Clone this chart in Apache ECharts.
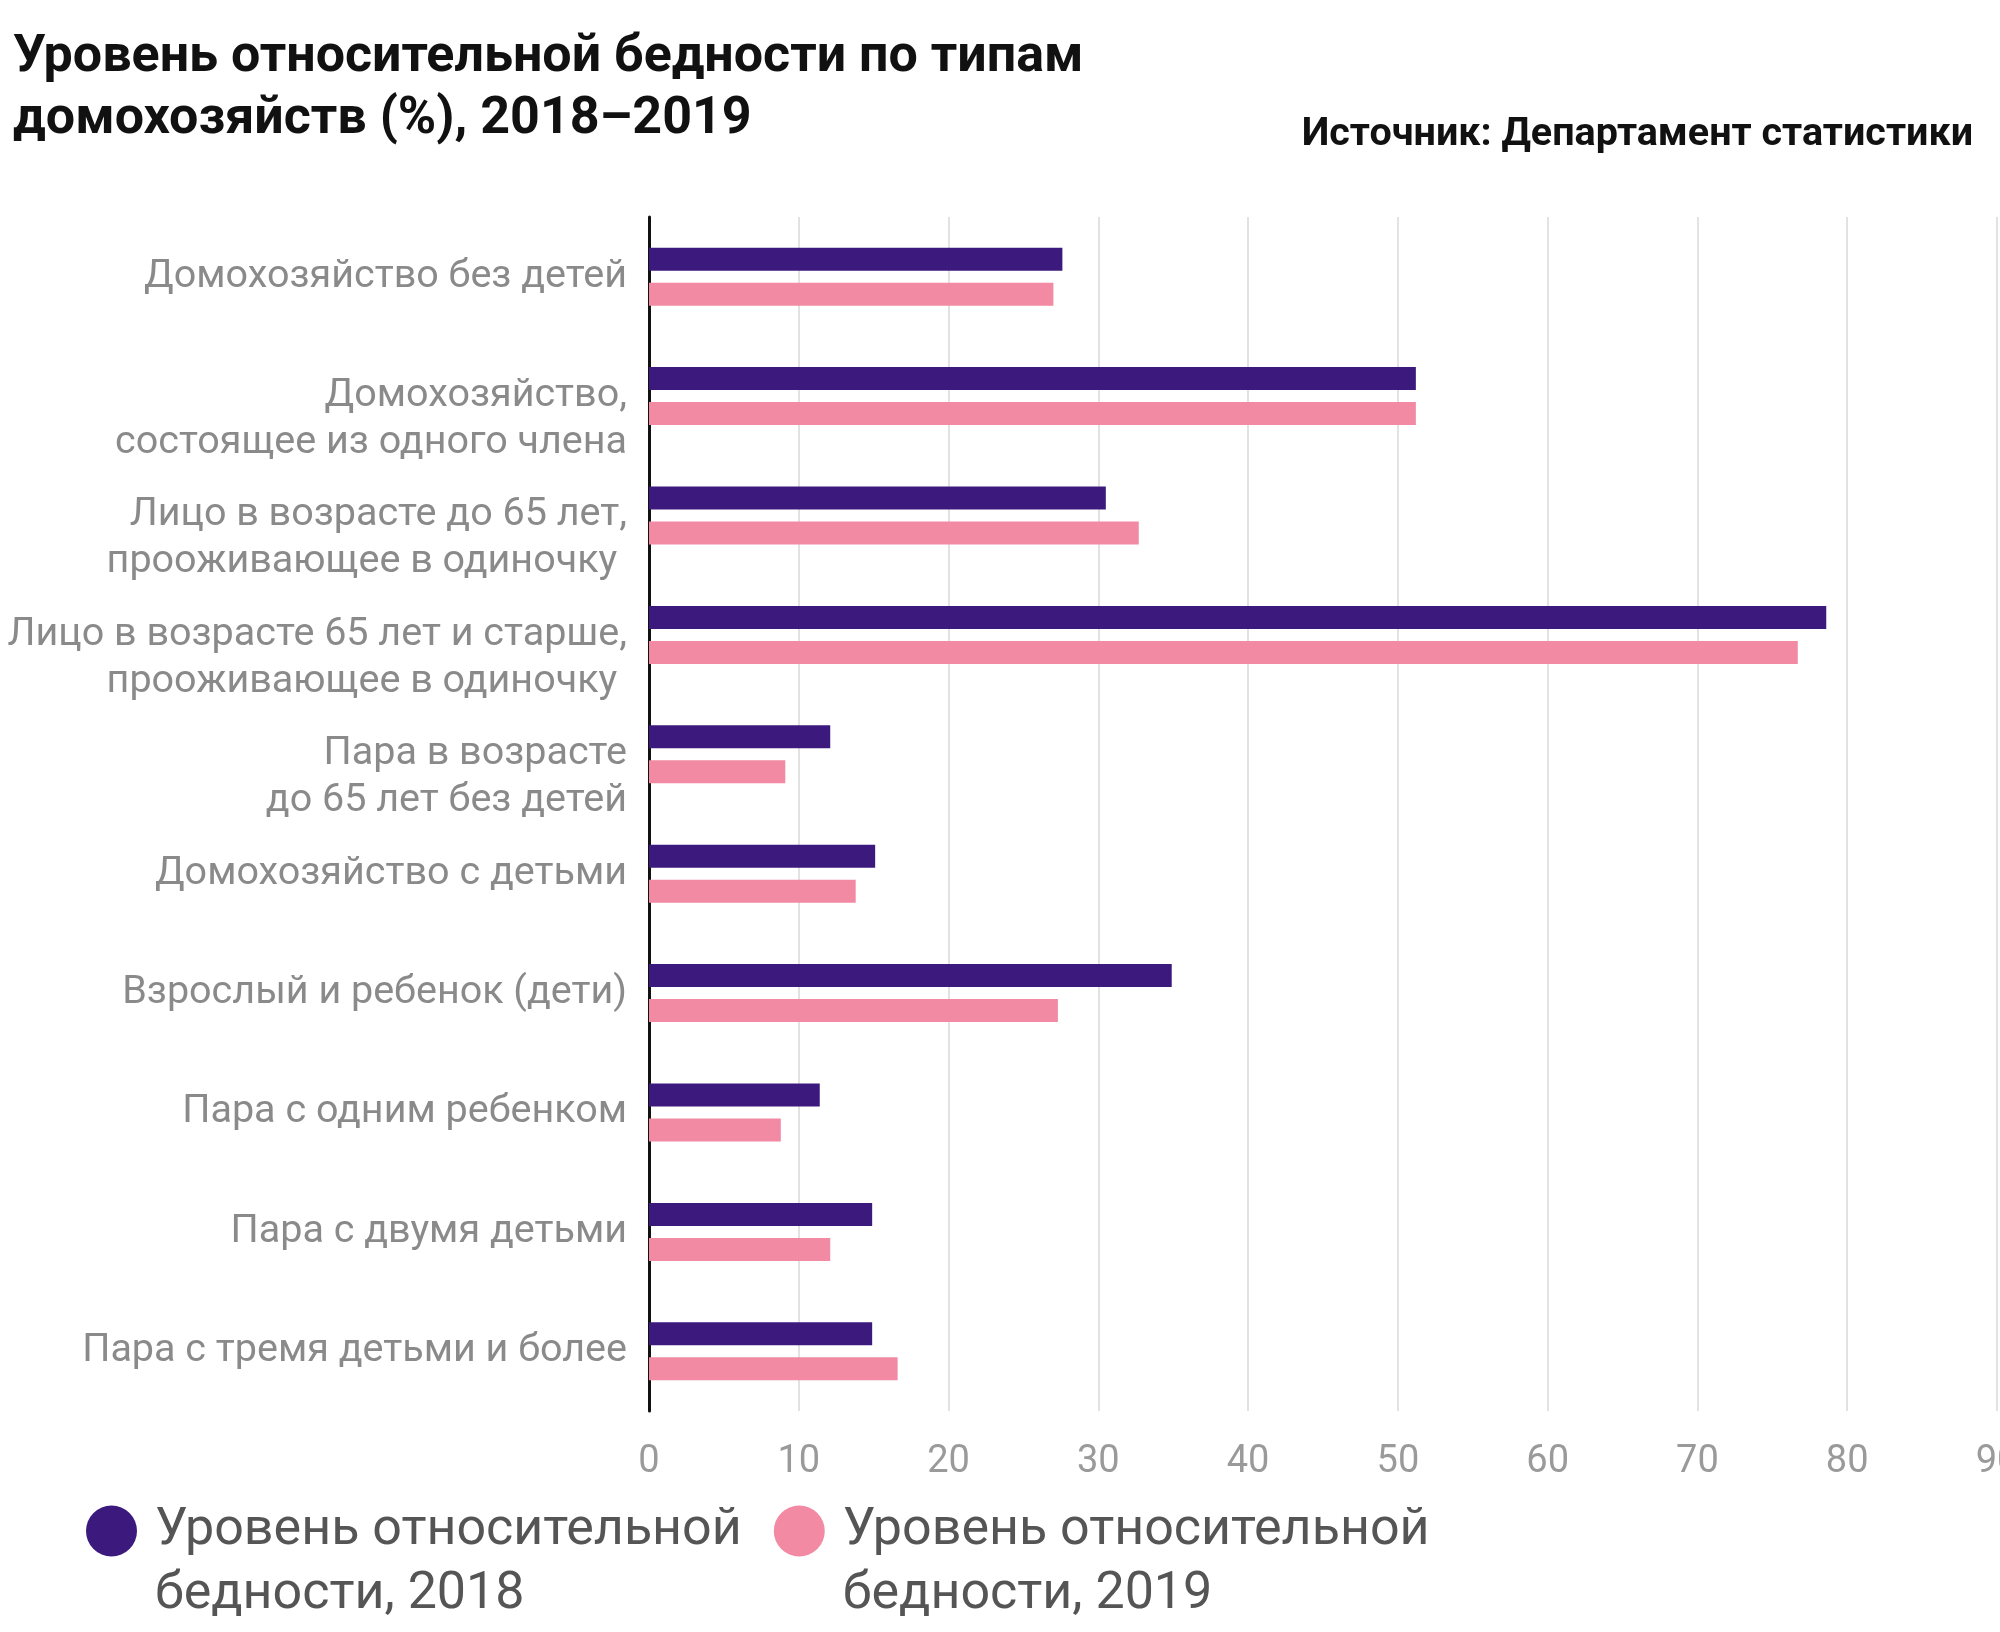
<!DOCTYPE html>
<html>
<head>
<meta charset="utf-8">
<script src="https://cdn.jsdelivr.net/npm/echarts@6/dist/echarts.min.js"></script>
<style>
html,body{margin:0;padding:0;background:#fff;}
#chart{width:2000px;height:1632px;}
</style>
</head>
<body>
<div id="chart"></div>
<script>
var categories = [
  "Домохозяйство без детей",
  "Домохозяйство,\nсостоящее из одного члена",
  "Лицо в возрасте до 65 лет,\nпрооживающее в одиночку ",
  "Лицо в возрасте 65 лет и старше,\nпрооживающее в одиночку ",
  "Пара в возрасте\nдо 65 лет без детей",
  "Домохозяйство с детьми",
  "Взрослый и ребенок (дети)",
  "Пара с одним ребенком",
  "Пара с двумя детьми",
  "Пара с тремя детьми и более"
];
var values2018 = [27.6, 51.2, 30.5, 78.6, 12.1, 15.1, 34.9, 11.4, 14.9, 14.9];
var values2019 = [27.0, 51.2, 32.7, 76.7, 9.1, 13.8, 27.3, 8.8, 12.1, 16.6];
var seriesNames = ["Уровень относительной\nбедности, 2018", "Уровень относительной\nбедности, 2019"];
var titleText = "Уровень относительной бедности по типам\nдомохозяйств (%), 2018–2019";
var sourceText = "Источник: Департамент статистики";

var chart = echarts.init(document.getElementById('chart'), null, {renderer: 'canvas'});
var FONT = 'Roboto';
chart.setOption({
  backgroundColor: '#ffffff',
  animation: false,
  title: [
    {
      text: titleText,
      left: 13, top: 27, padding: 0,
      textStyle: {fontFamily: FONT, fontWeight: 'bold', fontSize: 52, lineHeight: 62, color: '#111111'}
    },
    {
      text: sourceText,
      right: 27, top: 113, padding: 0,
      textStyle: {fontFamily: FONT, fontWeight: 'bold', fontSize: 39.5, lineHeight: 44, color: '#111111'}
    }
  ],
  legend: {
    left: 86, top: 1435, padding: 0,
    icon: 'circle',
    itemWidth: 51, itemHeight: 51,
    itemGap: 32,
    formatter: function (name) { return '\n ' + name.replace('\n', '\n '); },
    textStyle: {fontFamily: FONT, fontSize: 52, lineHeight: 64, color: '#555555'},
    data: seriesNames
  },
  grid: {left: 649, right: 3, top: 217, bottom: 221, containLabel: false, outerBoundsMode: 'none'},
  xAxis: {
    type: 'value', min: 0, max: 90, interval: 10,
    axisLine: {show: false}, axisTick: {show: false},
    splitLine: {show: true, lineStyle: {color: '#e2e2e2', width: 2}},
    axisLabel: {fontFamily: FONT, fontSize: 38, color: '#9a9a9a', margin: 32}
  },
  yAxis: {
    type: 'category', inverse: true, data: categories,
    axisLine: {show: true, lineStyle: {color: '#111111', width: 3}},
    axisTick: {show: false},
    splitLine: {show: false},
    axisLabel: {
      fontFamily: FONT, fontSize: 39.5, lineHeight: 47, color: '#8a8a8a', margin: 22, align: 'right',
      formatter: function (v) { return v.indexOf('\n') >= 0 ? '\n' + v : v; }
    }
  },
  series: [
    {name: seriesNames[0], type: 'bar', data: values2018, barWidth: 23, barGap: '52%',
     itemStyle: {color: '#3c1a7d'}},
    {name: seriesNames[1], type: 'bar', data: values2019, barWidth: 23, barGap: '52%',
     itemStyle: {color: '#f28aa3'}}
  ]
});
</script>
</body>
</html>
